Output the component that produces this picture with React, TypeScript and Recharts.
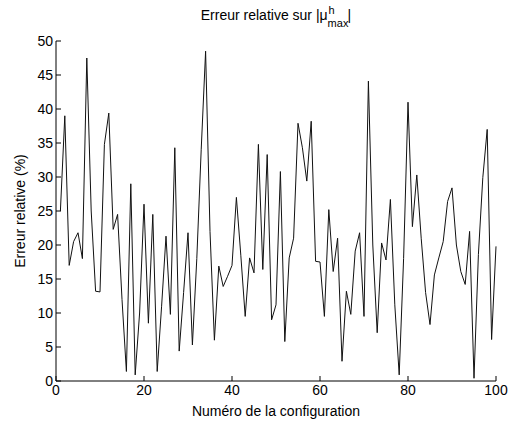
import { LineChart, Line, XAxis, YAxis } from 'recharts'

// relative error (%) per configuration
const relativeError = [
  25, 39, 17, 20.5, 21.8, 18, 47.5, 25, 13.2, 13.1,
  34.8, 39.4, 22.3, 24.5, 12, 1.4, 29, 0.9, 10, 26,
  8.5, 24.5, 1.4, 11, 21.3, 9.8, 34.3, 4.4, 13, 21.8,
  5.3, 18, 34, 48.5, 22, 6, 16.9, 13.9, 15.4, 17,
  27, 18.5, 9.5, 18.1, 15.9, 34.8, 16.4, 33.3, 9, 11.2,
  30.8, 5.8, 18.1, 21, 37.9, 34.3, 29.4, 38.2, 17.6, 17.5,
  9.5, 25.2, 16.1, 21, 2.9, 13.2, 9.8, 19.1, 21.8, 9.5,
  44.1, 20, 7.1, 20.3, 17.8, 26.7, 11.2, 0.9, 18, 41,
  22.7, 30.3, 21, 13, 8.3, 15.6, 18.1, 20.5, 26.4, 28.4,
  20, 16.1, 14.2, 22, 0.4, 18.6, 29.9, 37, 6.1, 19.8,
]

const configNumbers = relativeError.map((_, i) => i + 1)

const xTicks = [0, 20, 40, 60, 80, 100]
const yTicks = [0, 5, 10, 15, 20, 25, 30, 35, 40, 45, 50]

const FONT = '"Liberation Sans", Arial, sans-serif'

export default function App() {
  const data = configNumbers.map((n, i) => ({ config: n, err: relativeError[i] }))

  return (
    <div style={{ position: 'absolute', left: 0, top: 0, width: 513, height: 426, background: '#fff', fontFamily: FONT }}>
      {/* title with stacked h / max like matlab's mu^h_max */}
      <div style={{ position: 'absolute', left: 176, top: 6, width: 200, textAlign: 'center', fontSize: 14, lineHeight: '16px', color: '#000' }}>
        <span>Erreur relative sur |μ</span>
        <span style={{ position: 'relative', display: 'inline-block', width: 20, height: 14 }}>
          <span style={{ position: 'absolute', left: 1, top: -2, fontSize: 11, lineHeight: '12px' }}>h</span>
          <span style={{ position: 'absolute', left: 0, top: 11, fontSize: 11, lineHeight: '12px' }}>max</span>
        </span>
        <span>|</span>
      </div>

      <LineChart width={513} height={426} data={data} margin={{ top: 41, right: 17, bottom: 5, left: 0 }}>
        <XAxis
          dataKey="config"
          type="number"
          domain={[0, 100]}
          ticks={xTicks}
          height={40}
          tickSize={-5}
          tickMargin={9}
          stroke="#000"
          tick={{ fill: '#000', fontSize: 14, fontFamily: FONT }}
          label={{ value: 'Numéro de la configuration', position: 'insideBottom', offset: 5, fill: '#000', fontSize: 14, fontFamily: FONT }}
        />
        <YAxis
          type="number"
          domain={[0, 50]}
          ticks={yTicks}
          width={56}
          tickSize={-5}
          tickMargin={8}
          interval={0}
          stroke="#000"
          tick={{ fill: '#000', fontSize: 14, fontFamily: FONT }}
          label={{ value: 'Erreur relative (%)', angle: -90, position: 'insideLeft', offset: 20, fill: '#000', fontSize: 14, fontFamily: FONT, style: { textAnchor: 'middle' } }}
        />
        <Line type="linear" dataKey="err" stroke="#111" strokeWidth={1} dot={false} isAnimationActive={false} />
      </LineChart>
    </div>
  )
}
